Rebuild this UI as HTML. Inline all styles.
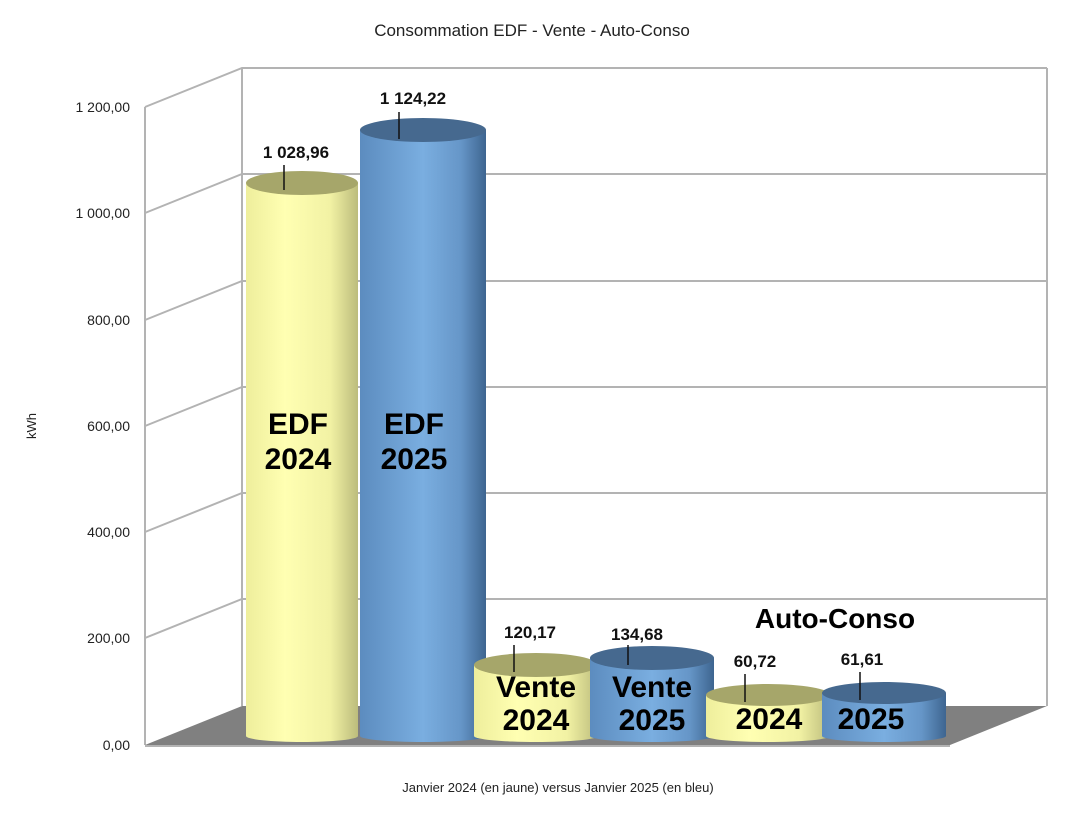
<!DOCTYPE html>
<html><head><meta charset="utf-8"><style>
body{margin:0;background:#fff}
svg{display:block;font-family:"Liberation Sans",sans-serif}
.lb{font-family:"Liberation Sans",sans-serif;font-weight:bold;font-size:30px;fill:#000;text-anchor:middle}
</style></head><body>
<svg width="1089" height="816" viewBox="0 0 1089 816">
<defs>
<linearGradient id="y" x1="0" x2="1" y1="0" y2="0"><stop offset="0" stop-color="#eeee9c"/><stop offset="0.35" stop-color="#ffffb2"/><stop offset="0.75" stop-color="#f2f2a4"/><stop offset="1" stop-color="#bcbc7c"/></linearGradient>
<linearGradient id="b" x1="0" x2="1" y1="0" y2="0"><stop offset="0" stop-color="#5c8cbf"/><stop offset="0.5" stop-color="#7aaee0"/><stop offset="0.8" stop-color="#6696c8"/><stop offset="1" stop-color="#3e6590"/></linearGradient>
</defs>
<text x="532" y="36" font-size="17" text-anchor="middle" fill="#222">Consommation EDF - Vente - Auto-Conso</text>
<!-- walls -->
<g stroke="#b3b3b3" stroke-width="2" fill="none">
<line x1="242" y1="68" x2="242" y2="706"/>
<line x1="1047" y1="68" x2="1047" y2="706"/>
<line x1="145" y1="107" x2="145" y2="745"/>
<path d="M145 107 L242 68 L1047 68"/>
<path d="M145 213 L242 174 L1047 174"/>
<path d="M145 320 L242 281 L1047 281"/>
<path d="M145 426 L242 387 L1047 387"/>
<path d="M145 532 L242 493 L1047 493"/>
<path d="M145 638 L242 599 L1047 599"/>
</g>
<polygon points="145,745 242,706 1047,706 950,745" fill="#808080"/>
<line x1="145" y1="746" x2="950" y2="746" stroke="#b3b3b3" stroke-width="2"/>
<g font-size="14" fill="#222" text-anchor="end">
<text x="130" y="112">1 200,00</text><text x="130" y="218">1 000,00</text><text x="130" y="325">800,00</text>
<text x="130" y="431">600,00</text><text x="130" y="537">400,00</text><text x="130" y="643">200,00</text><text x="130" y="750">0,00</text>
</g>
<text x="36" y="426" font-size="13" fill="#222" text-anchor="middle" transform="rotate(-90 36 426)">kWh</text>
<text x="558" y="792" font-size="13" fill="#222" text-anchor="middle">Janvier 2024 (en jaune) versus Janvier 2025 (en bleu)</text>
<!-- cylinders -->
<g>
<rect x="246" y="183" width="112" height="553" fill="url(#y)"/><ellipse cx="302" cy="736" rx="56" ry="6" fill="url(#y)"/><ellipse cx="302" cy="183" rx="56" ry="12" fill="#a6a66a"/>
<rect x="360" y="130" width="126" height="606" fill="url(#b)"/><ellipse cx="423" cy="736" rx="63" ry="6" fill="url(#b)"/><ellipse cx="423" cy="130" rx="63" ry="12" fill="#46698f"/>
<rect x="474" y="665" width="124" height="71" fill="url(#y)"/><ellipse cx="536" cy="736" rx="62" ry="6" fill="url(#y)"/><ellipse cx="536" cy="665" rx="62" ry="12" fill="#a6a66a"/>
<rect x="590" y="658" width="124" height="78" fill="url(#b)"/><ellipse cx="652" cy="736" rx="62" ry="6" fill="url(#b)"/><ellipse cx="652" cy="658" rx="62" ry="12" fill="#46698f"/>
<rect x="706" y="695" width="124" height="41" fill="url(#y)"/><ellipse cx="768" cy="736" rx="62" ry="6" fill="url(#y)"/><ellipse cx="768" cy="695" rx="62" ry="11" fill="#a6a66a"/>
<rect x="822" y="693" width="124" height="43" fill="url(#b)"/><ellipse cx="884" cy="736" rx="62" ry="6" fill="url(#b)"/><ellipse cx="884" cy="693" rx="62" ry="11" fill="#46698f"/>
</g>
<g stroke="#111" stroke-width="1.5">
<line x1="284" y1="165" x2="284" y2="190"/><line x1="399" y1="112" x2="399" y2="139"/>
<line x1="514" y1="645" x2="514" y2="672"/><line x1="628" y1="645" x2="628" y2="665"/>
<line x1="745" y1="674" x2="745" y2="702"/><line x1="860" y1="672" x2="860" y2="700"/>
</g>
<g font-size="17" font-weight="bold" fill="#111" text-anchor="middle">
<text x="296" y="158">1 028,96</text><text x="413" y="104">1 124,22</text>
<text x="530" y="638">120,17</text><text x="637" y="640">134,68</text>
<text x="755" y="667">60,72</text><text x="862" y="665">61,61</text>
</g>
<g class="lb">
<text x="298" y="434">EDF</text><text x="298" y="469">2024</text>
<text x="414" y="434">EDF</text><text x="414" y="469">2025</text>
<text x="536" y="697">Vente</text><text x="536" y="730">2024</text>
<text x="652" y="697">Vente</text><text x="652" y="730">2025</text>
<text x="835" y="628" font-size="28">Auto-Conso</text>
<text x="769" y="729">2024</text><text x="871" y="729">2025</text>
</g>
</svg>
</body></html>
